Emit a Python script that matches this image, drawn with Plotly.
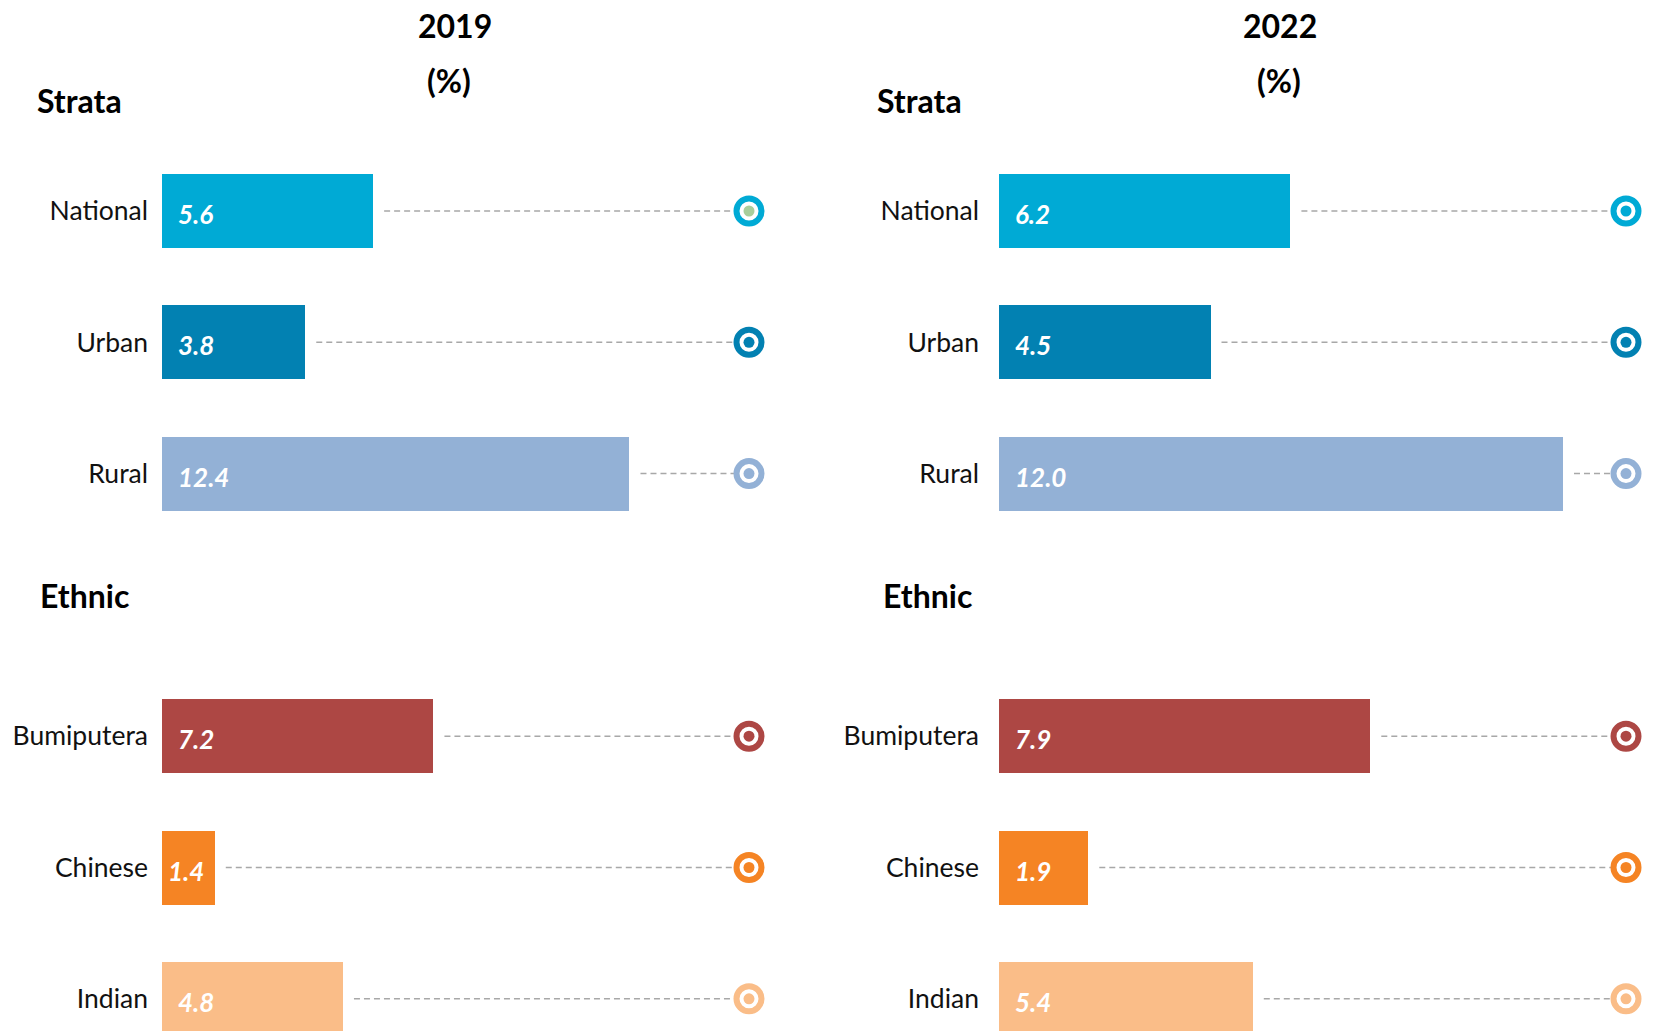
import plotly.graph_objects as go

# ---------------- data ----------------
categories = ["National", "Urban", "Rural", "Bumiputera", "Chinese", "Indian"]
groups = ["Strata", "Strata", "Strata", "Ethnic", "Ethnic", "Ethnic"]
group_names = ["Strata", "Ethnic"]
years = ["2019", "2022"]
unit_label = "(%)"
values_2019 = [5.6, 3.8, 12.4, 7.2, 1.4, 4.8]
values_2022 = [6.2, 4.5, 12.0, 7.9, 1.9, 5.4]
bar_colors = ["#00AAD5", "#0281B2", "#93B1D6", "#AD4744", "#F58424", "#FABD88"]
dot_colors_2019 = ["#A8CE9B", "#0281B2", "#93B1D6", "#AD4744", "#F58424", "#FABD88"]
dot_colors_2022 = ["#00AAD5", "#0281B2", "#93B1D6", "#AD4744", "#F58424", "#FABD88"]

# ---------------- layout constants (pixels) ----------------
W, H = 1654, 1031
ROW0_Y, ROW_STEP, BAR_PX = 211, 131.3, 74
panels = [
    dict(x0=162, ppu=37.7, x_end=749, standoff=13, title_x=455, pct_x=449,
         head_x={"Strata": 35, "Ethnic": 38}, values=values_2019, dots=dot_colors_2019),
    dict(x0=999, ppu=47.0, x_end=1626, standoff=19, title_x=1280, pct_x=1279,
         head_x={"Strata": 875, "Ethnic": 881}, values=values_2022, dots=dot_colors_2022),
]
HEAD_Y = {"Strata": 100, "Ethnic": 595}
FONT = "Lato, 'Open Sans', sans-serif"

# row slot positions: one empty slot between groups
rows = [i + group_names.index(g) for i, g in enumerate(groups)]
k_top = -ROW0_Y / ROW_STEP
k_bot = (H - ROW0_Y) / ROW_STEP
bar_width = BAR_PX / ROW_STEP

fig = go.Figure()
annotations = []

for p_i, (p, year) in enumerate(zip(panels, years)):
    xa = "x" if p_i == 0 else "x2"
    ya = "y" if p_i == 0 else "y2"
    xmax = (p["x_end"] - p["x0"]) / p["ppu"]
    vals = p["values"]

    # dashed leader lines
    gap = 11 / p["ppu"]
    lx, ly = [], []
    for v, r in zip(vals, rows):
        lx += [v + gap, xmax, None]
        ly += [r, r, None]
    fig.add_trace(go.Scatter(x=lx, y=ly, mode="lines", xaxis=xa, yaxis=ya,
                             line=dict(color="#A8A8A8", width=1.5, dash="6px,4px"),
                             hoverinfo="skip", showlegend=False, cliponaxis=False))

    # bars
    fig.add_trace(go.Bar(x=vals, y=rows, orientation="h", xaxis=xa, yaxis=ya,
                         width=bar_width, marker=dict(color=bar_colors, line=dict(width=0)),
                         showlegend=False, hoverinfo="x+y"))

    # ring markers at end
    fig.add_trace(go.Scatter(x=[xmax] * len(rows), y=rows, mode="markers", xaxis=xa, yaxis=ya,
                             marker=dict(size=25, color="white",
                                         line=dict(width=6, color=bar_colors)),
                             cliponaxis=False, showlegend=False, hoverinfo="skip"))
    fig.add_trace(go.Scatter(x=[xmax] * len(rows), y=rows, mode="markers", xaxis=xa, yaxis=ya,
                             marker=dict(size=11, color=p["dots"], line=dict(width=0)),
                             cliponaxis=False, showlegend=False, hoverinfo="skip"))

    # value labels inside bars
    for v, r in zip(vals, rows):
        bar_px = v * p["ppu"]
        if bar_px < 70:
            ax_x, anchor, shift = v / 2, "center", -2
        else:
            ax_x, anchor, shift = 0, "left", 14
        annotations.append(dict(x=ax_x, y=r, xref=xa, yref=ya, text=f"{v:.1f}",
                                showarrow=False, xanchor=anchor, yanchor="middle",
                                xshift=shift, yshift=-3,
                                font=dict(family=FONT, size=26, color="white",
                                          style="italic", weight="bold")))

    # titles
    annotations.append(dict(x=p["title_x"] / W, y=1 - 25 / H, xref="paper", yref="paper",
                            text=year, showarrow=False, xanchor="center", yanchor="middle",
                            font=dict(family=FONT, size=32, color="black", weight="bold")))
    annotations.append(dict(x=p["pct_x"] / W, y=1 - 80 / H, xref="paper", yref="paper",
                            text=unit_label, showarrow=False, xanchor="center", yanchor="middle",
                            font=dict(family=FONT, size=32, color="black", weight="bold")))
    for g in group_names:
        annotations.append(dict(x=p["head_x"][g] / W, y=1 - HEAD_Y[g] / H, xref="paper",
                                yref="paper", text=g, showarrow=False, xanchor="left",
                                yanchor="middle",
                                font=dict(family=FONT, size=32, color="black", weight="bold")))

    dom = [p["x0"] / W, p["x_end"] / W]
    axis_x = dict(domain=dom, range=[0, xmax], visible=False, fixedrange=True)
    axis_y = dict(range=[k_bot, k_top], tickvals=rows, ticktext=categories,
                  showgrid=False, zeroline=False, showline=False, ticks="",
                  ticklabelstandoff=p["standoff"],
                  tickfont=dict(family=FONT, size=26.5, color="#111111"),
                  domain=[0, 1], fixedrange=True)
    if p_i == 0:
        fig.update_layout(xaxis=dict(axis_x, anchor="y"), yaxis=dict(axis_y, anchor="x"))
    else:
        fig.update_layout(xaxis2=dict(axis_x, anchor="y2"),
                          yaxis2=dict(axis_y, anchor="x2", matches="y"))

fig.update_layout(width=W, height=H, margin=dict(l=0, r=0, t=0, b=0),
                  plot_bgcolor="white", paper_bgcolor="white",
                  annotations=annotations, bargap=0, showlegend=False,
                  font=dict(family=FONT))

fig.write_html("out.html", config={"displayModeBar": False},
               post_script="document.body.style.margin='0';document.body.style.overflow='hidden';")
